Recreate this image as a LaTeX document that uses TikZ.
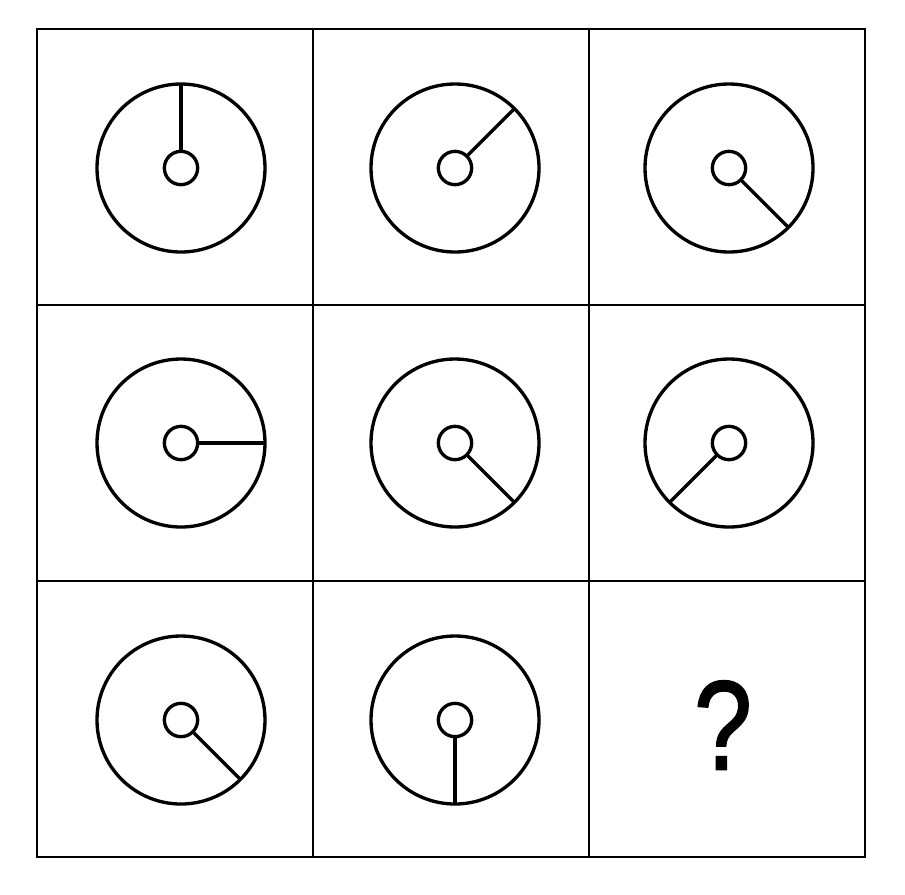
\documentclass[tikz,border=0pt]{standalone}
\usepackage{fontspec}
\newfontfamily\qfont[FakeBold=1.6]{Liberation Sans}
\begin{document}
\begin{tikzpicture}[
x=0.75pt, y=-0.75pt,
gridline/.style={
  draw,
  line width=1.5pt},
bigring/.style={
  draw,
  circle,
  line width=2.5pt,
  minimum size=126pt,
  inner sep=0pt,
  outer sep=0pt},
hubring/.style={
  draw,
  circle,
  line width=2.5pt,
  minimum size=25pt,
  inner sep=0pt,
  outer sep=0pt},
spoke/.style={
  line width=2.5pt}
]
\useasboundingbox (0,0) rectangle (905,894);
% grid of nine cells
\draw[gridline] (37,29) rectangle (865,857);
\foreach \k in {1,2}
{
  \draw[gridline] ({37+276*\k},29) -- ({37+276*\k},857);
  \draw[gridline] (37,{29+276*\k}) -- (865,{29+276*\k});
}
% rings with spokes: x, y, angle
\foreach \px/\py/\a [count=\i] in {181/168/90,455/168/45,729/168/-45,
                      181/443/0,455/443/-45,729/443/-135,
                      181/720/-45,455/720/-90}
{
  \node[bigring] (ring\i) at (\px,\py) {};
  \node[hubring] (hub\i) at (ring\i.center) {};
  \draw[spoke] (hub\i.\a) -- (ring\i.\a);
}
\node[inner sep=0pt, xscale=0.82] (quest) at (723,725)
  {\qfont\fontsize{95}{95}\selectfont ?};
\end{tikzpicture}
\end{document}
